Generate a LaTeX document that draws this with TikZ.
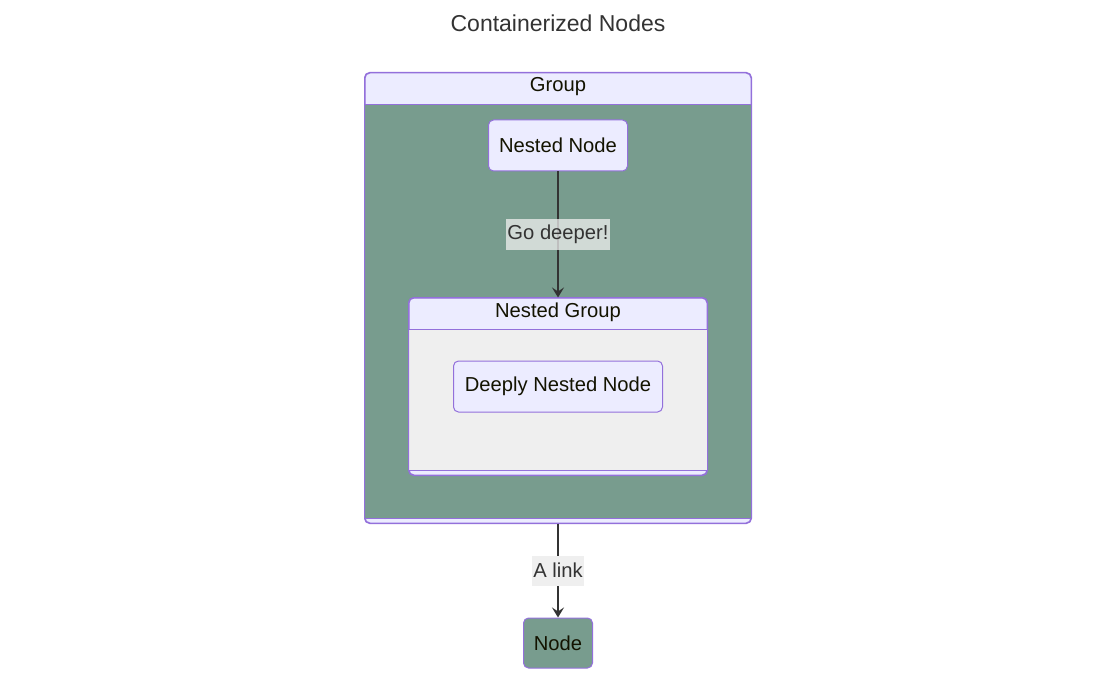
\documentclass[tikz,border=0pt]{standalone}
\usepackage{fontspec}
\setmainfont{Liberation Sans}
\definecolor{mmBorder}{HTML}{9370DB}
\definecolor{mmLav}{HTML}{ECECFF}
\definecolor{mmGreen}{HTML}{789C8E}
\definecolor{mmGrey}{HTML}{EFEFEF}
\definecolor{mmText}{HTML}{131300}
\definecolor{mmLine}{HTML}{333333}
\usetikzlibrary{calc,positioning,arrows.meta}

\begin{document}
\begin{tikzpicture}[x=1pt, y=-1pt,
  box/.style={draw=mmBorder, line width=1pt, rounded corners=5pt, fill=mmLav,
    text=mmText, font=\fontsize{20.2}{24}\selectfont, inner sep=0pt},
  cluster/.style={draw=mmBorder, line width=1pt, rounded corners=5pt, fill=mmLav, inner sep=0pt},
  head/.style={text=mmText, font=\fontsize{20.2}{24}\selectfont, inner sep=0pt},
  lbl/.style={fill=mmGrey, text=mmLine, font=\fontsize{20.2}{24}\selectfont,
    minimum height=30pt, inner xsep=1pt, inner ysep=0pt},
  arr/.style={-{Stealth[length=10pt, width=12pt, inset=4pt]}, line width=1.5pt, color=mmLine}
]
  \useasboundingbox (0,0) rectangle (1116,679);

  \node[text=mmLine, font=\fontsize{23}{28}\selectfont] (title) at (558,23) {Containerized Nodes};

  % outer group
  \node[cluster, minimum width=386pt, minimum height=450pt] (grp) at (558,298) {};
  \fill[mmGreen] ($(grp.north west)+(0,32)$) rectangle ($(grp.south east)+(0,-5)$);
  \draw[mmBorder, line width=1pt] ($(grp.north west)+(0,32)$) -- ($(grp.north east)+(0,32)$)
    ($(grp.south west)+(0,-5)$) -- ($(grp.south east)+(0,-5)$);
  \draw[mmBorder, line width=1pt, rounded corners=5pt] (grp.north west) rectangle (grp.south east);
  \node[head] (grpTitle) at (558,87) {Group};

  \node[box, minimum width=139pt, minimum height=51pt] (nested) at (558,145.5) {Nested Node};

  % nested group
  \node[cluster, minimum width=298pt, minimum height=177pt] (sub) at (558,386.5) {};
  \fill[mmGrey] ($(sub.north west)+(0,32)$) rectangle ($(sub.south east)+(0,-5)$);
  \draw[mmBorder, line width=1pt] ($(sub.north west)+(0,32)$) -- ($(sub.north east)+(0,32)$)
    ($(sub.south west)+(0,-5)$) -- ($(sub.south east)+(0,-5)$);
  \draw[mmBorder, line width=1pt, rounded corners=5pt] (sub.north west) rectangle (sub.south east);
  \node[head] (subTitle) at (558,312) {Nested Group};

  \node[box, minimum width=209pt, minimum height=51pt] (deep) at (558,386.5) {Deeply Nested Node};

  \node[box, fill=mmGreen, minimum width=69pt, minimum height=50pt] (plain) at (558,643) {Node};

  \draw[arr] (nested) -- node[lbl, fill opacity=0.75, text opacity=1] (lblDeeper) {Go deeper!} (sub);
  \draw[arr] (grp) -- node[lbl] (lblLink) {A link} (plain);
\end{tikzpicture}
\end{document}
